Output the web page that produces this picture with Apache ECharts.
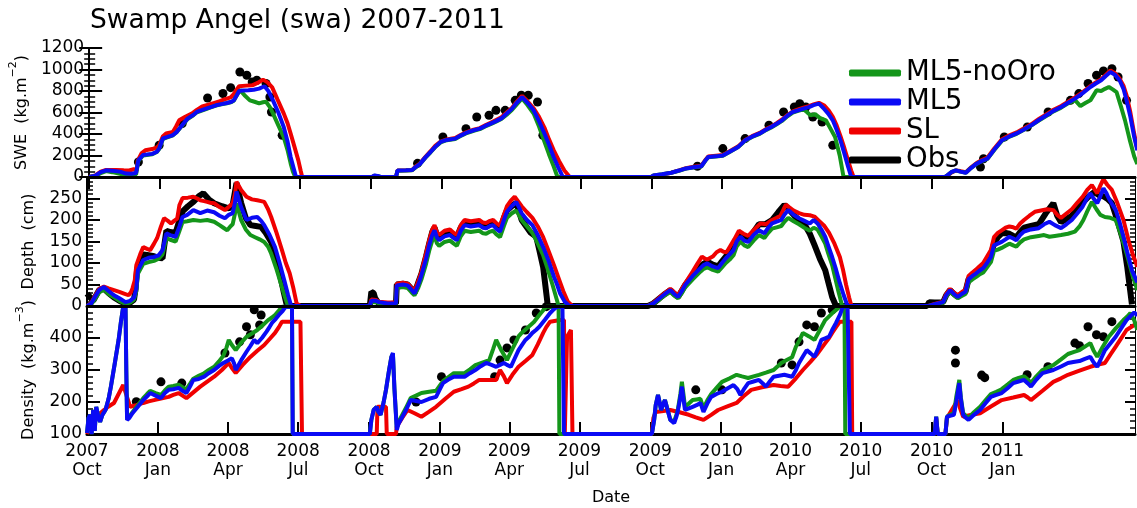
<!DOCTYPE html>
<html>
<head>
<meta charset="utf-8">
<script src="https://cdn.jsdelivr.net/npm/echarts@6/dist/echarts.min.js"></script>
<style>
  html, body { margin: 0; padding: 0; background: #fff; }
  #chart { width: 1137px; height: 508px; }
</style>
</head>
<body>
<div id="chart"></div>
<script>
// Days are counted from the start of the 2007-08 water year.
const startDate = '2007-10-01';
const tickDates = ['2007-10-01', '2008-01-01', '2008-04-01', '2008-07-01', '2008-10-01',
  '2009-01-01', '2009-04-01', '2009-07-01', '2009-10-01', '2010-01-01', '2010-04-01',
  '2010-07-01', '2010-10-01', '2011-01-01'];
const monthNames = ['Jan', 'Feb', 'Mar', 'Apr', 'May', 'Jun', 'Jul', 'Aug', 'Sep', 'Oct', 'Nov', 'Dec'];
const seriesNames = ['ML5-noOro', 'ML5', 'SL', 'Obs'];

// Snow water equivalent (kg m-2), [day, value]
const sweML5noOro = [[0,0],[8,10],[15,35],[22,55],[30,45],[40,30],[48,15],[55,15],[61,25],[63,35],[64,150],[70,200],[82,212],[88,232],[91,260],[96,355],[98,368],[109,388],[114,418],[119,462],[124,505],[128,540],[135,572],[140,602],[152,632],[158,648],[165,665],[172,676],[179,686],[185,698],[188,710],[192,760],[196,810],[202,760],[209,713],[215,700],[221,685],[226,695],[230,700],[235,650],[239,592],[246,480],[253,370],[258,250],[262,127],[265,50],[268,0],
  [368,0],[371,12],[375,8],[379,0],[399,0],[401,58],[412,60],[420,63],[425,92],[430,118],[437,178],[444,230],[450,278],[457,322],[465,342],[476,354],[483,382],[490,405],[500,430],[508,445],[515,470],[522,492],[529,515],[536,540],[543,580],[550,625],[556,675],[563,730],[570,670],[578,590],[585,470],[592,330],[598,210],[604,100],[609,0],
  [731,0],[734,15],[745,25],[757,40],[767,58],[776,78],[786,88],[796,98],[801,148],[805,184],[815,190],[824,198],[834,238],[844,278],[853,338],[862,372],[872,402],[880,436],[887,460],[894,490],[901,522],[908,565],[915,600],[922,615],[929,630],[934,600],[938,573],[944,585],[950,550],[958,527],[964,450],[970,372],[976,200],[981,0],
  [1113,0],[1116,15],[1121,45],[1127,62],[1133,50],[1140,40],[1147,85],[1154,122],[1161,148],[1168,168],[1177,252],[1187,338],[1196,372],[1206,402],[1215,437],[1225,478],[1235,525],[1245,570],[1254,610],[1264,645],[1273,685],[1282,715],[1289,660],[1296,690],[1302,713],[1310,806],[1316,800],[1321,820],[1326,837],[1331,815],[1336,790],[1342,650],[1347,527],[1353,350],[1359,190],[1363,120]];
const sweML5 = [[0,0],[8,12],[15,45],[22,62],[30,58],[40,50],[48,32],[55,30],[61,38],[63,45],[64,155],[70,205],[82,215],[88,235],[91,264],[96,360],[98,372],[109,390],[114,420],[119,465],[124,510],[128,543],[135,575],[140,605],[152,636],[158,650],[165,667],[172,678],[179,688],[185,700],[188,713],[192,760],[195,800],[200,805],[207,806],[214,812],[221,822],[225,835],[228,844],[233,800],[239,713],[246,600],[253,465],[258,330],[262,186],[266,80],[269,0],
  [368,0],[371,15],[375,10],[379,0],[399,0],[401,60],[412,62],[420,65],[425,95],[430,120],[437,180],[444,233],[450,280],[457,326],[465,345],[476,357],[483,385],[490,410],[500,435],[508,450],[515,475],[522,497],[529,520],[536,545],[543,590],[550,636],[556,690],[563,744],[570,690],[578,620],[585,520],[592,405],[598,300],[604,186],[610,90],[616,0],
  [731,0],[734,15],[745,25],[757,40],[767,60],[776,80],[786,90],[796,100],[801,150],[805,186],[815,192],[824,200],[834,240],[844,280],[853,341],[862,375],[872,405],[880,440],[887,465],[894,495],[901,527],[908,570],[915,605],[922,620],[929,636],[936,650],[942,668],[949,682],[955,640],[961,590],[967,527],[972,440],[977,341],[982,220],[987,93],[991,0],
  [1113,0],[1116,15],[1121,45],[1127,62],[1133,50],[1140,40],[1147,85],[1154,124],[1161,150],[1168,170],[1177,255],[1187,341],[1196,375],[1206,405],[1215,440],[1225,481],[1235,530],[1245,574],[1254,615],[1264,651],[1273,690],[1282,729],[1292,780],[1302,837],[1309,870],[1316,900],[1322,940],[1328,977],[1334,950],[1340,900],[1345,820],[1349,713],[1354,560],[1359,372],[1363,248]];
const sweSL = [[0,0],[8,15],[15,50],[22,65],[35,65],[45,62],[52,60],[58,72],[62,65],[63,150],[68,220],[73,248],[82,260],[88,275],[91,295],[96,380],[100,405],[109,420],[113,470],[117,527],[125,560],[134,592],[140,625],[147,657],[155,672],[163,690],[170,705],[175,720],[184,740],[188,770],[191,806],[195,844],[204,850],[212,853],[219,875],[226,906],[232,880],[238,834],[245,720],[253,592],[258,500],[262,405],[267,280],[272,155],[275,60],[277,0],
  [368,0],[372,10],[378,0],[399,0],[401,60],[412,62],[420,65],[425,100],[430,125],[437,185],[444,240],[450,290],[457,330],[465,350],[476,362],[483,390],[490,415],[500,440],[508,455],[515,480],[522,505],[529,530],[536,555],[543,600],[550,645],[556,700],[563,755],[570,705],[578,640],[585,560],[592,460],[598,350],[604,250],[611,150],[618,60],[625,0],
  [731,0],[734,12],[745,22],[757,40],[767,62],[776,82],[786,95],[796,105],[801,155],[805,190],[815,198],[824,205],[834,245],[844,285],[853,345],[862,380],[872,410],[880,445],[887,470],[894,500],[901,535],[908,575],[915,610],[922,628],[929,645],[936,660],[942,675],[949,690],[956,665],[962,615],[967,560],[972,480],[977,380],[982,270],[987,150],[991,60],[994,0],
  [1113,0],[1116,10],[1121,40],[1127,60],[1133,55],[1140,45],[1147,90],[1154,130],[1161,158],[1168,180],[1177,265],[1187,350],[1196,385],[1206,415],[1215,450],[1225,490],[1235,540],[1245,585],[1254,625],[1264,660],[1273,700],[1282,740],[1292,790],[1302,845],[1309,880],[1316,910],[1322,950],[1328,990],[1334,965],[1340,915],[1345,850],[1349,760],[1354,600],[1359,400],[1363,260]];
const sweObs = [[64,140],[91,295],[121,498],[154,735],[174,777],[184,831],[196,977],[205,946],[212,884],[218,900],[230,870],[235,744],[237,605],[251,388],
  [427,127],[460,372],[490,450],[504,558],[520,574],[529,620],[541,620],[554,713],[562,760],[571,760],[583,698],[590,388],
  [791,100],[824,264],[853,357],[884,481],[903,605],[917,651],[924,682],[932,651],[941,558],[953,512],[967,295],
  [1159,93],[1163,170],[1190,372],[1220,465],[1247,605],[1276,713],[1287,776],[1299,870],[1310,946],[1319,986],[1330,1008],[1338,930],[1349,713]];

// Snow depth (cm), [day, value]
const depthML5noOro = [[0,0],[5,3],[10,15],[16,32],[22,38],[28,28],[35,20],[42,12],[50,5],[56,8],[61,15],[64,35],[66,75],[73,98],[80,102],[87,105],[93,110],[98,120],[103,158],[108,154],[115,150],[120,175],[124,195],[130,197],[138,200],[147,198],[156,200],[165,196],[172,188],[177,182],[182,176],[186,185],[189,190],[192,215],[194,239],[200,200],[206,178],[212,165],[218,160],[224,155],[230,149],[235,138],[239,122],[246,85],[253,44],[257,20],[261,0],
  [367,0],[369,9],[371,12],[375,9],[379,6],[390,4],[401,4],[402,42],[410,44],[416,42],[421,32],[425,25],[430,43],[434,62],[440,98],[444,128],[448,152],[451,163],[454,146],[457,140],[464,149],[471,152],[476,145],[480,140],[485,162],[490,175],[498,172],[509,175],[514,169],[518,168],[523,173],[527,175],[531,167],[536,160],[541,186],[545,205],[551,215],[557,222],[561,210],[564,200],[571,185],[578,170],[585,145],[592,118],[598,85],[604,50],[608,25],[612,0],
  [728,0],[735,5],[743,15],[750,25],[757,33],[762,24],[767,18],[772,30],[776,43],[786,62],[796,80],[800,86],[805,90],[812,84],[819,80],[824,90],[829,100],[834,108],[839,118],[843,138],[848,150],[853,141],[858,137],[865,152],[872,165],[879,158],[884,170],[889,180],[895,183],[901,186],[905,196],[910,205],[917,197],[924,190],[931,182],[938,175],[943,182],[948,178],[953,162],[958,145],[962,122],[967,95],[971,65],[975,35],[980,0],
  [1092,0],[1100,3],[1111,7],[1115,22],[1120,33],[1125,25],[1130,18],[1135,23],[1140,28],[1144,55],[1149,62],[1154,68],[1158,73],[1163,78],[1168,90],[1173,102],[1177,128],[1182,131],[1187,135],[1192,140],[1197,145],[1202,141],[1206,138],[1211,148],[1216,155],[1225,160],[1235,163],[1242,165],[1249,161],[1256,163],[1264,165],[1273,168],[1282,173],[1288,185],[1293,200],[1298,220],[1304,242],[1310,225],[1315,212],[1321,207],[1328,205],[1335,200],[1340,175],[1345,147],[1351,110],[1357,70],[1363,37]];
const depthML5 = [[0,0],[5,5],[10,20],[16,38],[22,44],[28,35],[35,25],[42,18],[50,9],[56,12],[61,20],[64,40],[66,83],[73,107],[80,112],[87,114],[93,118],[98,130],[103,169],[108,165],[115,161],[120,185],[124,207],[130,212],[138,223],[147,216],[156,222],[165,218],[172,210],[179,204],[184,212],[189,216],[192,240],[194,266],[200,230],[207,200],[214,205],[221,207],[226,198],[230,188],[237,165],[244,137],[250,100],[256,60],[261,25],[265,0],
  [367,0],[369,12],[371,15],[375,12],[379,9],[390,6],[401,6],[402,48],[410,50],[416,48],[421,38],[425,29],[430,50],[434,72],[440,110],[444,141],[448,165],[451,176],[454,160],[457,153],[464,162],[471,165],[476,158],[480,153],[485,175],[490,188],[498,185],[509,188],[514,182],[518,181],[523,186],[527,188],[531,180],[536,173],[541,200],[545,219],[551,232],[557,242],[561,228],[564,216],[571,200],[578,188],[585,165],[592,137],[599,105],[606,68],[610,50],[614,29],[620,10],[626,0],
  [728,0],[735,6],[743,18],[750,28],[757,37],[762,28],[767,21],[772,35],[776,48],[786,70],[796,88],[800,95],[805,99],[812,92],[819,88],[824,100],[829,111],[834,120],[839,130],[843,150],[848,161],[853,152],[858,149],[865,165],[872,176],[879,169],[884,182],[889,192],[895,196],[901,200],[905,212],[910,223],[917,212],[924,204],[931,198],[938,192],[943,200],[948,192],[953,178],[958,161],[962,140],[967,114],[972,85],[977,53],[982,25],[987,0],
  [1092,0],[1100,4],[1111,9],[1115,25],[1120,37],[1125,28],[1130,21],[1135,28],[1140,33],[1144,62],[1149,70],[1154,76],[1158,82],[1163,88],[1168,100],[1173,114],[1177,141],[1182,145],[1187,149],[1192,155],[1197,161],[1202,157],[1206,153],[1211,165],[1216,173],[1225,178],[1235,181],[1242,190],[1249,196],[1256,188],[1264,181],[1271,190],[1278,200],[1285,215],[1292,231],[1297,248],[1302,262],[1307,248],[1311,239],[1315,255],[1319,274],[1323,262],[1326,250],[1330,238],[1335,223],[1340,195],[1345,161],[1350,125],[1356,83],[1363,55]];
const depthSL = [[0,0],[5,6],[10,22],[16,40],[22,45],[28,41],[35,37],[42,33],[48,29],[54,25],[57,32],[59,41],[62,60],[64,95],[69,120],[73,137],[78,133],[82,130],[87,145],[91,158],[96,185],[100,204],[105,198],[109,192],[113,198],[117,203],[120,235],[124,251],[131,252],[138,254],[143,250],[147,246],[152,244],[156,242],[160,240],[165,239],[172,230],[179,223],[185,232],[189,239],[192,260],[194,289],[200,270],[207,254],[214,248],[221,246],[226,244],[230,242],[235,225],[239,207],[246,170],[253,130],[258,100],[263,76],[268,40],[272,6],[277,0],
  [367,0],[369,15],[371,18],[375,14],[379,10],[390,8],[401,8],[402,52],[410,54],[416,52],[421,42],[425,35],[430,58],[434,80],[440,122],[444,152],[448,178],[451,188],[454,172],[457,165],[464,175],[471,178],[476,170],[480,165],[485,188],[490,200],[498,197],[509,200],[514,194],[518,193],[523,198],[527,200],[531,193],[536,186],[541,212],[545,232],[550,245],[555,254],[560,242],[564,232],[571,218],[578,205],[585,185],[592,160],[599,128],[606,95],[612,65],[618,35],[624,10],[630,0],
  [728,0],[735,7],[743,20],[750,30],[757,40],[762,32],[767,25],[772,40],[776,52],[786,80],[792,98],[798,115],[802,110],[805,108],[812,115],[817,125],[822,130],[826,126],[830,125],[835,140],[840,155],[846,175],[852,168],[858,163],[866,178],[874,192],[881,190],[889,200],[895,205],[900,210],[904,225],[907,236],[911,230],[917,222],[924,216],[931,212],[938,211],[944,208],[950,198],[957,186],[963,170],[970,145],[977,114],[981,85],[985,50],[989,20],[992,0],
  [1092,0],[1100,5],[1111,10],[1115,28],[1120,40],[1125,31],[1130,25],[1135,32],[1140,38],[1144,70],[1149,78],[1154,85],[1158,92],[1163,100],[1168,115],[1173,130],[1177,160],[1182,170],[1187,176],[1192,182],[1197,185],[1202,183],[1206,180],[1211,192],[1216,200],[1223,210],[1230,219],[1238,222],[1246,225],[1254,223],[1259,212],[1264,205],[1271,215],[1278,225],[1285,240],[1292,254],[1298,270],[1304,281],[1308,270],[1311,262],[1315,280],[1319,295],[1324,282],[1330,270],[1337,240],[1345,200],[1352,150],[1358,115],[1363,91]];
const depthObs = [[0,29],[2,33],[5,18],[8,12],[12,25],[16,38],[22,40],[28,30],[35,20],[42,12],[50,5],[56,8],[61,15],[63,40],[65,85],[69,108],[73,120],[80,118],[87,116],[92,112],[98,111],[101,150],[103,175],[108,172],[115,170],[120,200],[124,220],[131,232],[138,242],[145,255],[151,262],[158,248],[165,239],[175,232],[184,227],[189,235],[194,286],[200,240],[206,205],[212,188],[219,186],[226,184],[232,170],[239,149],[245,110],[251,68],[255,35],[259,4],[262,0],
  [367,0],[369,33],[372,30],[374,18],[377,10],[379,5],[390,4],[401,6],[402,50],[410,52],[416,50],[421,40],[425,30],[430,55],[434,75],[440,115],[444,145],[448,172],[451,182],[454,166],[457,160],[464,168],[471,172],[476,165],[480,160],[485,182],[490,195],[498,190],[509,192],[514,186],[518,184],[523,190],[527,194],[531,186],[536,178],[541,205],[545,222],[551,232],[557,240],[561,218],[564,200],[570,185],[576,170],[580,165],[583,161],[587,130],[592,90],[595,45],[598,0],
  [728,0],[735,6],[743,18],[750,28],[757,37],[762,28],[767,21],[772,36],[776,48],[786,72],[796,92],[800,98],[805,103],[812,96],[819,92],[824,104],[829,115],[834,125],[839,135],[843,155],[848,168],[853,158],[858,152],[865,172],[872,190],[880,190],[889,200],[897,218],[905,235],[912,222],[918,210],[924,200],[931,190],[938,168],[944,142],[951,110],[958,83],[962,55],[967,21],[972,0],
  [1090,0],[1093,9],[1100,8],[1111,9],[1115,25],[1120,37],[1125,28],[1130,21],[1135,28],[1140,33],[1144,62],[1149,72],[1154,80],[1158,86],[1163,92],[1168,105],[1173,118],[1177,145],[1182,160],[1187,169],[1192,170],[1197,168],[1202,163],[1206,160],[1211,172],[1216,182],[1225,186],[1235,190],[1244,215],[1254,239],[1259,210],[1264,195],[1271,202],[1278,210],[1285,225],[1292,240],[1300,255],[1307,265],[1313,258],[1319,255],[1325,248],[1330,239],[1337,200],[1345,150],[1350,90],[1356,4]];

// Bulk snow density (kg m-3), [day, value]; 100 marks snow-free days
const densML5noOro = [[0,103],[2,150],[4,160],[6,100],[8,175],[10,110],[12,185],[15,150],[17,138],[20,160],[24,175],[28,210],[31,248],[36,320],[41,394],[44,450],[47,498],[50,498],[51,300],[52,150],[55,155],[59,168],[66,190],[73,212],[78,225],[82,235],[89,228],[96,222],[101,236],[106,248],[112,250],[119,254],[124,246],[129,240],[134,258],[138,273],[145,282],[152,290],[158,300],[165,310],[171,326],[177,345],[181,370],[184,394],[188,378],[193,362],[200,385],[207,404],[214,414],[221,425],[228,440],[235,456],[240,464],[244,472],[249,486],[253,498],[266,498],[267,100],
  [367,100],[369,144],[372,175],[376,185],[378,170],[381,160],[385,200],[388,238],[392,300],[395,341],[397,350],[399,240],[402,120],[404,135],[407,150],[414,182],[420,212],[427,220],[434,228],[444,232],[453,235],[458,252],[462,265],[469,278],[476,290],[483,290],[490,290],[497,302],[504,315],[513,323],[522,331],[527,365],[531,394],[538,360],[545,331],[550,356],[555,380],[560,405],[564,416],[572,433],[580,450],[588,475],[596,498],[612,498],[613,100],
  [733,100],[736,144],[738,190],[741,222],[743,200],[745,175],[748,195],[750,206],[754,172],[757,144],[762,140],[765,160],[767,180],[770,225],[772,263],[774,225],[776,185],[781,195],[786,206],[791,208],[796,210],[800,180],[805,205],[810,225],[817,244],[824,263],[834,274],[843,285],[850,280],[858,275],[865,280],[872,285],[881,292],[891,300],[896,311],[901,322],[908,331],[915,340],[920,373],[925,395],[929,416],[937,405],[944,394],[951,425],[958,456],[967,477],[977,498],[983,498],[984,100],
  [1100,100],[1102,154],[1104,100],[1114,100],[1116,154],[1120,160],[1125,165],[1128,215],[1132,269],[1134,215],[1137,165],[1140,158],[1144,150],[1151,168],[1159,185],[1166,205],[1173,225],[1180,232],[1187,240],[1195,255],[1202,269],[1209,275],[1216,280],[1221,270],[1225,260],[1232,280],[1240,300],[1247,308],[1254,315],[1264,333],[1273,350],[1280,356],[1288,362],[1295,373],[1302,384],[1306,362],[1311,341],[1318,372],[1326,404],[1335,430],[1345,456],[1350,467],[1354,478],[1359,455],[1363,425]];
const densML5 = [[0,103],[2,150],[4,160],[6,100],[8,175],[10,110],[12,185],[15,150],[17,138],[20,160],[24,175],[28,210],[31,248],[36,320],[41,394],[44,450],[47,498],[50,498],[51,300],[52,144],[55,150],[59,165],[66,185],[73,206],[78,218],[82,228],[89,220],[96,212],[101,228],[106,238],[112,240],[119,244],[124,235],[129,228],[134,250],[138,269],[145,272],[152,279],[158,290],[165,300],[171,312],[177,322],[183,330],[188,337],[191,320],[193,300],[200,330],[207,357],[212,375],[217,394],[221,384],[227,400],[233,420],[237,435],[240,447],[245,460],[249,472],[254,485],[258,498],[266,498],[267,100],
  [367,100],[369,144],[372,175],[376,185],[378,170],[381,160],[385,200],[388,238],[392,300],[395,341],[397,353],[399,240],[402,113],[404,130],[407,144],[414,175],[420,206],[427,203],[434,200],[444,210],[453,216],[458,240],[462,259],[469,270],[476,279],[483,279],[490,279],[497,290],[504,300],[511,312],[518,322],[525,316],[531,310],[536,316],[541,322],[545,316],[550,310],[555,336],[560,362],[565,380],[569,394],[574,405],[578,416],[583,426],[587,435],[594,456],[601,478],[606,490],[610,498],[617,498],[619,100],
  [733,100],[736,144],[738,190],[741,222],[743,200],[745,175],[748,195],[750,206],[754,170],[757,144],[762,134],[765,155],[767,175],[770,215],[772,248],[774,210],[776,175],[781,180],[786,185],[791,190],[796,197],[800,169],[805,195],[810,216],[817,225],[824,232],[831,242],[839,253],[844,240],[848,222],[853,242],[858,259],[865,264],[872,269],[877,258],[881,248],[886,264],[891,279],[898,282],[905,285],[910,282],[915,279],[920,300],[924,322],[929,342],[934,362],[939,352],[944,341],[949,368],[953,394],[958,399],[963,404],[967,425],[972,447],[977,472],[981,498],[987,498],[990,100],
  [1100,100],[1102,154],[1104,100],[1114,100],[1116,154],[1120,157],[1125,160],[1128,200],[1132,259],[1134,210],[1137,160],[1140,152],[1144,144],[1151,160],[1159,175],[1166,196],[1173,216],[1180,222],[1187,228],[1195,244],[1202,259],[1209,264],[1216,269],[1221,258],[1225,248],[1232,270],[1240,290],[1247,295],[1254,300],[1264,311],[1273,322],[1280,325],[1288,328],[1295,335],[1302,341],[1306,325],[1311,310],[1316,336],[1321,362],[1328,383],[1335,404],[1342,430],[1349,456],[1354,468],[1359,480],[1363,470]];
const densSL = [[0,100],[4,130],[8,144],[15,160],[22,175],[28,186],[35,197],[41,225],[47,253],[52,215],[56,185],[64,190],[73,197],[80,202],[87,206],[96,211],[106,216],[112,222],[119,228],[124,220],[129,212],[138,230],[147,248],[156,264],[165,279],[175,300],[184,322],[188,306],[193,291],[202,316],[212,341],[221,360],[230,378],[237,397],[244,416],[249,434],[253,451],[277,451],[279,100],
  [367,100],[376,100],[377,185],[388,185],[389,100],[401,100],[402,123],[409,150],[416,175],[425,165],[434,154],[444,170],[453,185],[465,210],[476,232],[486,240],[495,248],[502,258],[509,269],[520,269],[531,269],[536,300],[541,280],[545,259],[552,285],[560,310],[569,328],[578,347],[585,380],[592,416],[596,434],[601,451],[614,456],[619,456],[620,100],[622,100],[623,404],[628,425],[629,425],[630,100],
  [733,100],[735,150],[738,169],[748,172],[757,175],[769,168],[781,160],[790,152],[800,144],[810,160],[819,175],[831,186],[843,197],[852,218],[862,238],[876,246],[891,253],[900,250],[910,248],[920,274],[929,300],[939,326],[948,351],[953,368],[958,384],[963,400],[967,416],[972,434],[977,451],[992,451],[993,100],
  [1100,100],[1102,150],[1104,100],[1114,100],[1116,150],[1123,178],[1130,206],[1133,180],[1137,154],[1148,160],[1159,165],[1173,186],[1187,206],[1202,214],[1216,222],[1221,214],[1225,206],[1240,235],[1254,263],[1264,274],[1273,285],[1288,298],[1302,310],[1311,316],[1321,322],[1328,348],[1335,373],[1342,399],[1349,425],[1356,436],[1363,447]];
const densObs = [[64,201],[96,263],[123,259],[179,353],[198,388],[207,435],[212,410],[217,488],[224,441],[226,472],
  [427,200],[460,279],[529,279],[536,331],[545,369],[554,394],[569,425],[583,478],[596,498],
  [790,238],[824,238],[901,322],[915,316],[924,388],[934,441],[944,435],[953,478],[967,488],
  [1127,362],[1127,322],[1161,284],[1165,276],[1220,285],[1247,310],[1282,384],[1288,376],[1299,435],[1310,410],[1319,404],[1330,451],[1340,503]];

const FONT = 'DejaVu Sans';
const COLORS = { 'ML5-noOro': '#14961a', 'ML5': '#0a0af5', 'SL': '#f00000', 'Obs': '#000000' };
const DAY_MS = 86400000;
const dayOf = d => Math.round((Date.parse(d) - Date.parse(startDate)) / DAY_MS);
const tickDays = tickDates.map(dayOf);
const tickLabel = {};
tickDates.forEach((d, i) => {
  const [y, m] = d.split('-').map(Number);
  tickLabel[tickDays[i]] = y + '\n' + monthNames[m - 1];
});
const X_MAX = 1360;

const grids = [
  { left: 87, right: 2, top: 48, height: 129 },
  { left: 87, right: 2, top: 177, height: 129 },
  { left: 87, right: 2, top: 306, height: 128 }
];

function plainX(gridIndex, extra) {
  return Object.assign({
    type: 'value', gridIndex, min: 0, max: X_MAX,
    axisLine: { show: true, lineStyle: { color: '#000', width: 3 } },
    axisTick: { show: false }, axisLabel: { show: false }, splitLine: { show: false }
  }, extra || {});
}

function yPair(gridIndex, min, max, interval, minorSplit, hideTop, name, nameGap) {
  const common = { type: 'value', gridIndex, min, max, interval, splitLine: { show: false } };
  const left = Object.assign({}, common, {
    position: 'left',
    name, nameLocation: 'middle', nameGap, nameRotate: 90,
    nameTextStyle: {
      fontFamily: FONT, fontSize: 16, color: '#000',
      rich: {
        n: { fontFamily: FONT, fontSize: 16, color: '#000', lineHeight: 22, verticalAlign: 'bottom' },
        sup: { fontFamily: FONT, fontSize: 11, color: '#000', lineHeight: 22, verticalAlign: 'top' }
      }
    },
    axisLine: { show: true, lineStyle: { color: '#000', width: 2 } },
    axisTick: { show: true, inside: true, length: 13, lineStyle: { color: '#000', width: 2 } },
    minorTick: { show: true, splitNumber: minorSplit, length: 6, lineStyle: { color: '#000', width: 1.5 } },
    axisLabel: {
      margin: 5, fontFamily: FONT, fontSize: 17, color: '#000',
      formatter: v => (hideTop && v === max) ? '' : String(v)
    }
  });
  const right = Object.assign({}, common, {
    position: 'right',
    axisLine: { show: true, lineStyle: { color: '#000', width: 1 } },
    axisTick: { show: true, inside: true, length: 10, lineStyle: { color: '#000', width: 2 } },
    minorTick: { show: true, splitNumber: minorSplit, length: 5, lineStyle: { color: '#000', width: 1.5 } },
    axisLabel: { show: false }
  });
  return [left, right];
}

const xAxes = [
  plainX(0, { position: 'bottom', z: 10 }),
  plainX(0, {
    position: 'top',
    axisLine: { show: true, lineStyle: { color: '#000', width: 2 } },
    axisTick: { show: true, inside: true, length: 12, customValues: tickDays, lineStyle: { color: '#000', width: 2 } }
  }),
  plainX(1, { position: 'bottom', z: 10 }),
  plainX(2, {
    position: 'bottom',
    name: 'Date', nameLocation: 'middle', nameGap: 56,
    nameTextStyle: { fontFamily: FONT, fontSize: 16, color: '#000' },
    axisTick: { show: true, inside: true, length: 12, customValues: tickDays, lineStyle: { color: '#000', width: 2 } },
    axisLabel: {
      show: true, customValues: tickDays, margin: 8,
      fontFamily: FONT, fontSize: 17, lineHeight: 19, color: '#000',
      formatter: v => tickLabel[Math.round(v)] || ''
    }
  })
];

const yAxes = [].concat(
  yPair(0, 0, 1200, 200, 4, false, '{n|SWE  (kg.m}{sup|−2}{n|)}', 58),
  yPair(1, 0, 300, 50, 5, true, '{n|Depth  (cm)}', 50),
  yPair(2, 100, 500, 100, 5, true, '{n|Density  (kg.m}{sup|−3}{n|)}', 50)
);

function lineSeries(name, data, xi, yi, width) {
  return {
    name, type: 'line', data, xAxisIndex: xi, yAxisIndex: yi,
    showSymbol: false, symbol: 'none', animation: false,
    lineStyle: { color: COLORS[name], width: width || 4 },
    itemStyle: { color: COLORS[name] }
  };
}
function dotSeries(name, data, xi, yi) {
  return {
    name, type: 'scatter', data, xAxisIndex: xi, yAxisIndex: yi,
    symbol: 'circle', symbolSize: 9, animation: false,
    itemStyle: { color: COLORS[name], opacity: 1 }
  };
}

const series = [
  dotSeries('Obs', sweObs, 0, 0),
  lineSeries('SL', sweSL, 0, 0),
  lineSeries('ML5-noOro', sweML5noOro, 0, 0),
  lineSeries('ML5', sweML5, 0, 0),

  lineSeries('Obs', depthObs, 2, 2, 6),
  lineSeries('SL', depthSL, 2, 2),
  lineSeries('ML5-noOro', depthML5noOro, 2, 2),
  lineSeries('ML5', depthML5, 2, 2),

  dotSeries('Obs', densObs, 3, 4),
  lineSeries('SL', densSL, 3, 4),
  lineSeries('ML5-noOro', densML5noOro, 3, 4),
  lineSeries('ML5', densML5, 3, 4)
];

const chart = echarts.init(document.getElementById('chart'), null, { renderer: 'canvas' });
chart.setOption({
  backgroundColor: '#fff',
  animation: false,
  title: {
    text: 'Swamp Angel (swa) 2007-2011', left: 90, top: 8, padding: 0,
    textStyle: { fontFamily: FONT, fontSize: 26.5, fontWeight: 'normal', color: '#000' }
  },
  legend: {
    orient: 'vertical', left: 849, top: 59, padding: 0,
    itemWidth: 52, itemHeight: 7, itemGap: 1, icon: 'roundRect',
    selectedMode: false,
    textStyle: { fontFamily: FONT, fontSize: 27.5, color: '#000' },
    data: seriesNames.map(n => ({ name: n, icon: 'roundRect', itemStyle: { color: COLORS[n] } }))
  },
  grid: grids,
  xAxis: xAxes,
  yAxis: yAxes,
  series
});
</script>
</body>
</html>
